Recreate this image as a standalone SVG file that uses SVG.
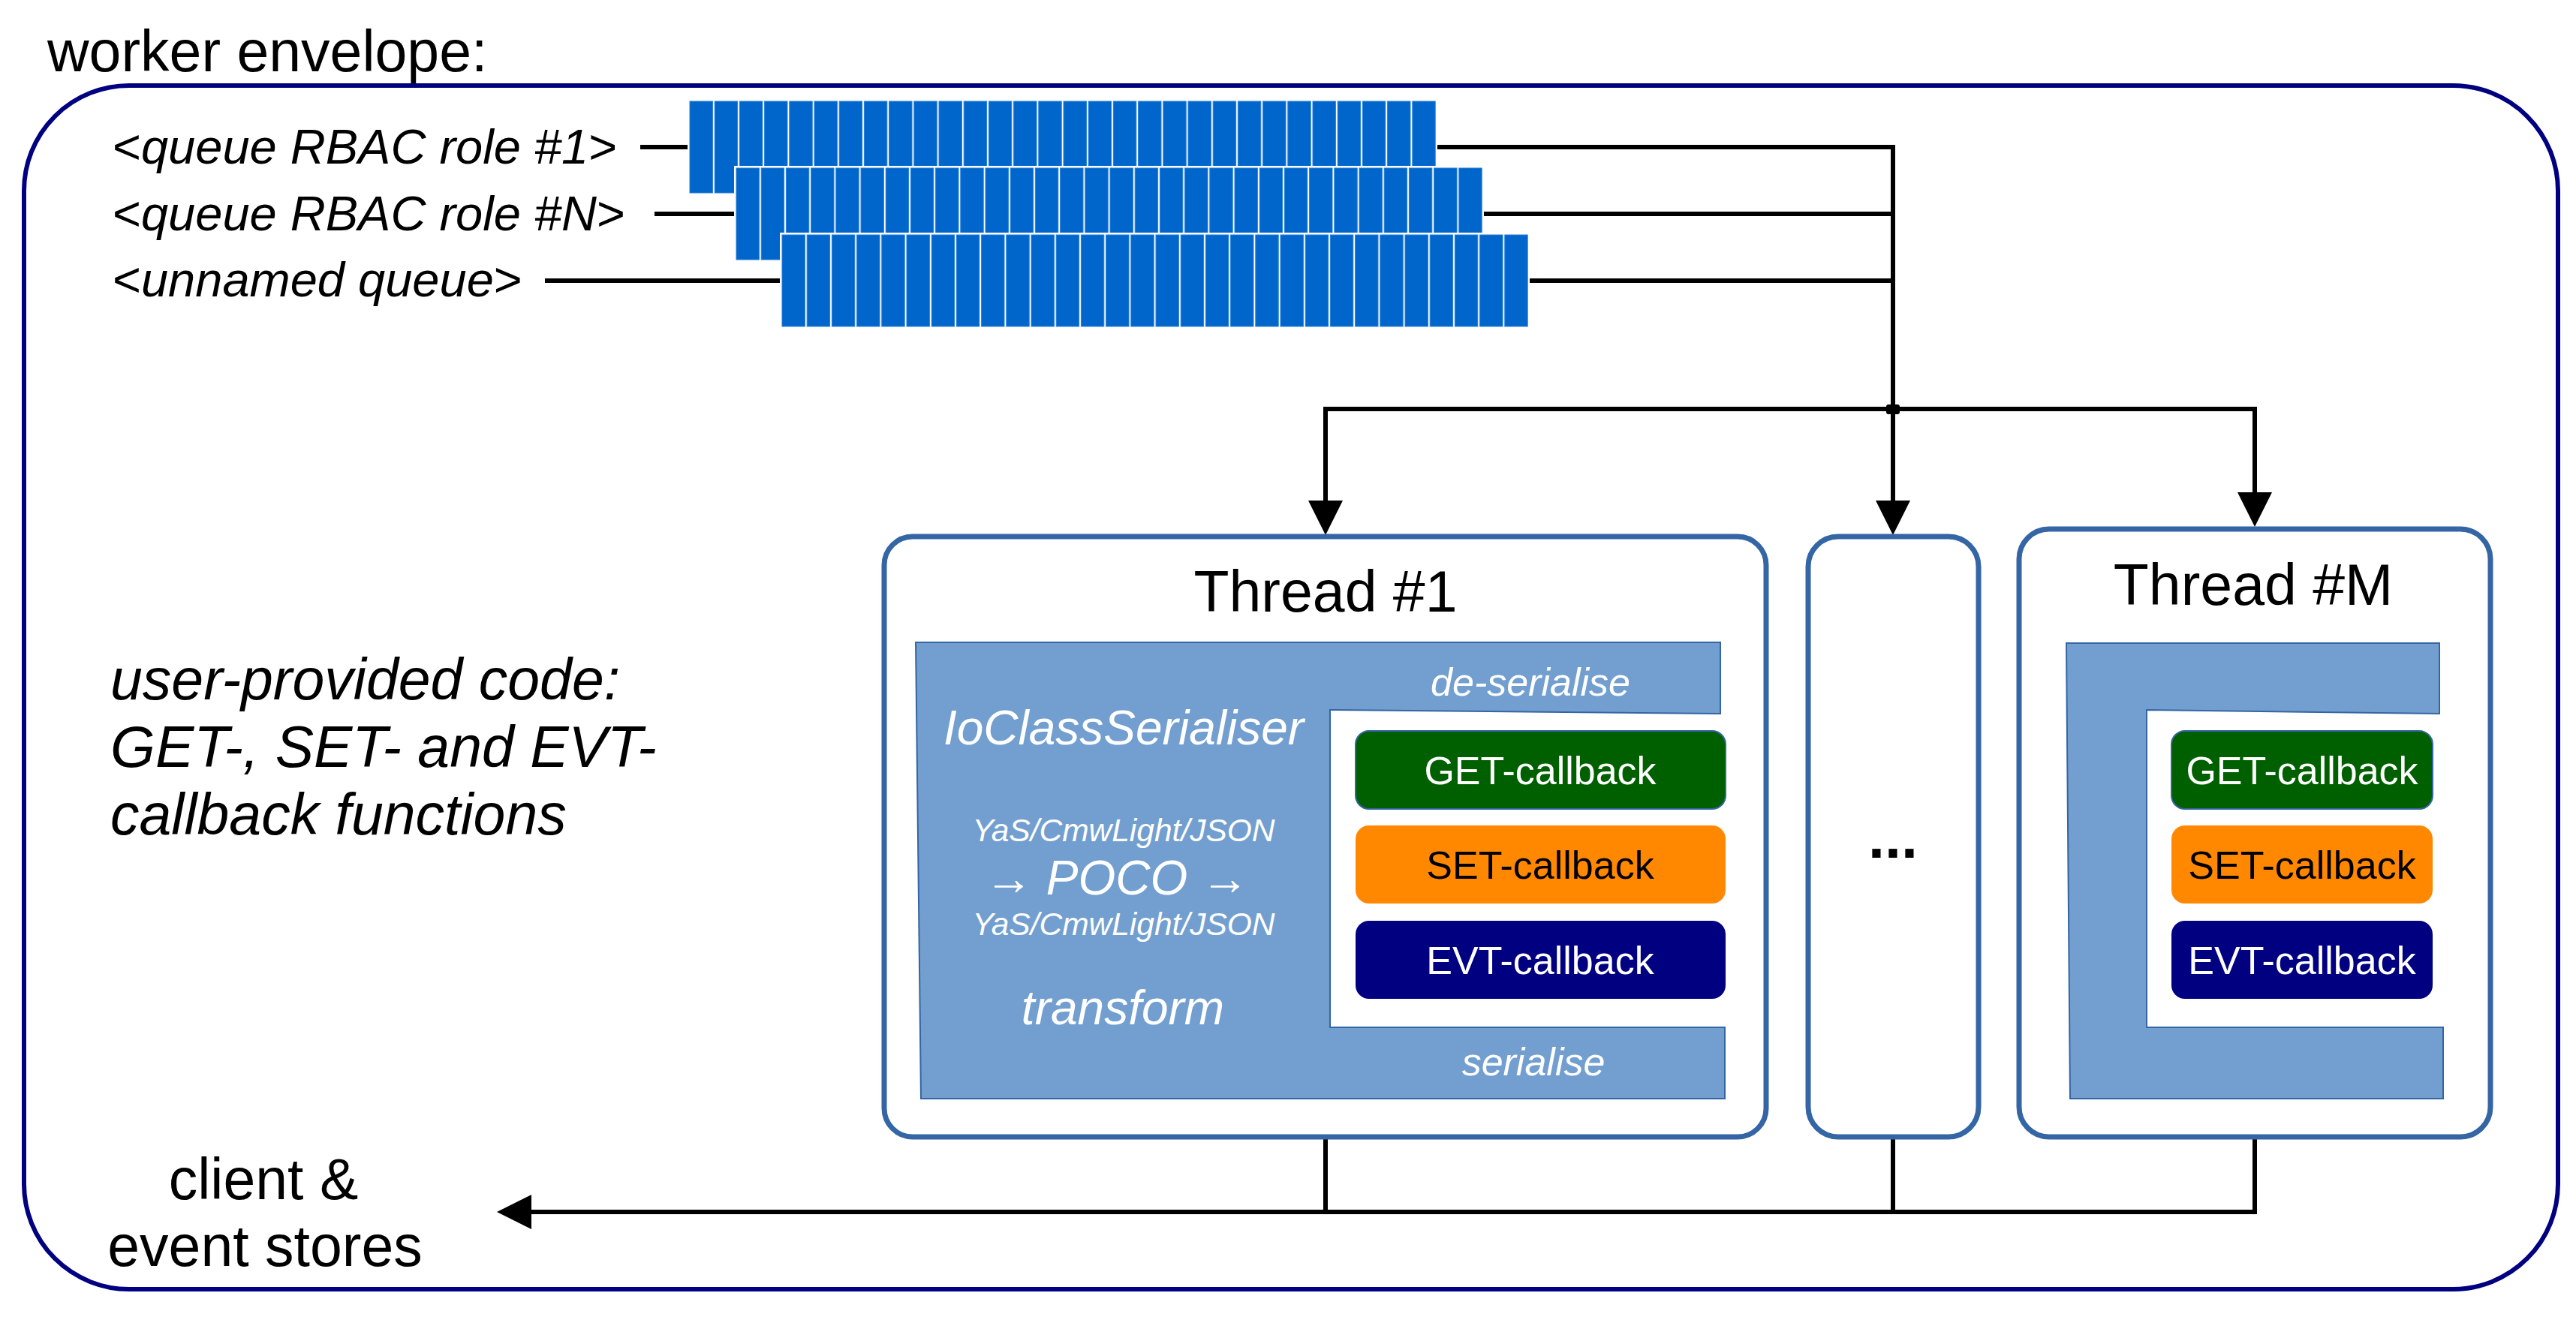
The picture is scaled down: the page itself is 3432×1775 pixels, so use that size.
<svg xmlns="http://www.w3.org/2000/svg" xmlns:xlink="http://www.w3.org/1999/xlink" width="3432" height="1775" viewBox="0 0 3432 1775">
<style>
text{font-family:"Liberation Sans",Arial,sans-serif}
.big{font-size:77px;fill:#000}
.lbl{font-size:65px;font-style:italic;fill:#000}
.it{font-style:italic}
.up{font-style:normal}
.wt{fill:#fff;font-style:italic}
.cb{font-size:52px;text-anchor:middle}
.thread{fill:#fff;stroke:#3465a4;stroke-width:7}
.ser{fill:#729fcf;stroke:#3465a4;stroke-width:2}
.cell{fill:#0066cc;stroke:#2a7fd6;stroke-width:1}
.wire{fill:none;stroke:#000;stroke-width:6}
</style>
<defs>
<g id="qrow">
<rect x="-3" y="-3" width="999" height="128" fill="#fff"/>
<rect class="cell" x="0" y="0" width="30.4" height="122"/>
<rect class="cell" x="33.2" y="0" width="30.4" height="122"/>
<rect class="cell" x="66.4" y="0" width="30.4" height="122"/>
<rect class="cell" x="99.6" y="0" width="30.4" height="122"/>
<rect class="cell" x="132.8" y="0" width="30.4" height="122"/>
<rect class="cell" x="166" y="0" width="30.4" height="122"/>
<rect class="cell" x="199.2" y="0" width="30.4" height="122"/>
<rect class="cell" x="232.4" y="0" width="30.4" height="122"/>
<rect class="cell" x="265.6" y="0" width="30.4" height="122"/>
<rect class="cell" x="298.8" y="0" width="30.4" height="122"/>
<rect class="cell" x="332" y="0" width="30.4" height="122"/>
<rect class="cell" x="365.2" y="0" width="30.4" height="122"/>
<rect class="cell" x="398.4" y="0" width="30.4" height="122"/>
<rect class="cell" x="431.6" y="0" width="30.4" height="122"/>
<rect class="cell" x="464.8" y="0" width="30.4" height="122"/>
<rect class="cell" x="498" y="0" width="30.4" height="122"/>
<rect class="cell" x="531.2" y="0" width="30.4" height="122"/>
<rect class="cell" x="564.4" y="0" width="30.4" height="122"/>
<rect class="cell" x="597.6" y="0" width="30.4" height="122"/>
<rect class="cell" x="630.8" y="0" width="30.4" height="122"/>
<rect class="cell" x="664" y="0" width="30.4" height="122"/>
<rect class="cell" x="697.2" y="0" width="30.4" height="122"/>
<rect class="cell" x="730.4" y="0" width="30.4" height="122"/>
<rect class="cell" x="763.6" y="0" width="30.4" height="122"/>
<rect class="cell" x="796.8" y="0" width="30.4" height="122"/>
<rect class="cell" x="830" y="0" width="30.4" height="122"/>
<rect class="cell" x="863.2" y="0" width="30.4" height="122"/>
<rect class="cell" x="896.4" y="0" width="30.4" height="122"/>
<rect class="cell" x="929.6" y="0" width="30.4" height="122"/>
<rect class="cell" x="962.8" y="0" width="30.4" height="122"/>
</g>
</defs>

<rect width="3432" height="1775" fill="#fff"/>

<g id="envelope">
<rect x="32" y="114" width="3376" height="1604" rx="140" ry="140" fill="none" stroke="#000080" stroke-width="6"/>
<text class="big" x="63" y="95">worker envelope:</text>
</g>

<g id="connectors">
<line class="wire" x1="853" y1="196" x2="919" y2="196"/>
<line class="wire" x1="872" y1="285" x2="981" y2="285"/>
<line class="wire" x1="726" y1="374" x2="1042" y2="374"/>
<line class="wire" x1="1913" y1="196" x2="2525" y2="196"/>
<line class="wire" x1="1975" y1="285" x2="2525" y2="285"/>
<line class="wire" x1="2036" y1="374" x2="2525" y2="374"/>
<line class="wire" x1="2522" y1="193" x2="2522" y2="545"/>
<polyline class="wire" points="1766,667 1766,545 3004,545 3004,656"/>
<line class="wire" x1="2522" y1="545" x2="2522" y2="667"/>
<rect x="2513" y="539" width="18" height="13" rx="3" fill="#000"/>
<path d="M1743,667 L1789,667 L1766,713 Z" fill="#000"/>
<path d="M2499,667 L2545,667 L2522,713 Z" fill="#000"/>
<path d="M2981,656 L3027,656 L3004,702 Z" fill="#000"/>
<line class="wire" x1="1766" y1="1515" x2="1766" y2="1615"/>
<line class="wire" x1="2522" y1="1515" x2="2522" y2="1615"/>
<polyline class="wire" points="3004,1515 3004,1615 706,1615"/>
<path d="M708,1592 L708,1638 L662,1615 Z" fill="#000"/>
</g>

<g id="queues">
<use xlink:href="#qrow" x="919" y="135"/>
<use xlink:href="#qrow" x="981" y="224"/>
<use xlink:href="#qrow" x="1042" y="313"/>
<text class="lbl" x="150" y="218"><tspan class="up">&lt;</tspan>queue RBAC role #1<tspan class="up">&gt;</tspan></text>
<text class="lbl" x="150" y="307"><tspan class="up">&lt;</tspan>queue RBAC role #N<tspan class="up">&gt;</tspan></text>
<text class="lbl" x="150" y="395"><tspan class="up">&lt;</tspan>unnamed queue<tspan class="up">&gt;</tspan></text>
</g>

<g id="user-code">
<text class="big it" x="147" y="932">user-provided code:</text>
<text class="big it" x="147" y="1022">GET-, SET- and EVT-</text>
<text class="big it" x="147" y="1112">callback functions</text>
</g>

<g id="thread-1">
<rect class="thread" x="1178" y="715" width="1175" height="800" rx="38" ry="38"/>
<text class="big" x="1766" y="815" text-anchor="middle">Thread #1</text>
<path class="ser" d="M1220,856 L2292,856 L2292,951 L1772,946 L1772,1369 L2298,1369 L2298,1464 L1227,1464 Z"/>
<text class="wt" x="2039" y="927" font-size="52" text-anchor="middle">de-serialise</text>
<text class="wt" x="1497" y="992" font-size="64" text-anchor="middle">IoClassSerialiser</text>
<text class="wt" x="1497" y="1121" font-size="42.5" text-anchor="middle">YaS/CmwLight/JSON</text>
<text class="wt" x="1488" y="1192" font-size="64" text-anchor="middle">→ POCO →</text>
<text class="wt" x="1497" y="1246" font-size="42.5" text-anchor="middle">YaS/CmwLight/JSON</text>
<text class="wt" x="1496" y="1365" font-size="64" text-anchor="middle">transform</text>
<text class="wt" x="2043" y="1433" font-size="52" text-anchor="middle">serialise</text>
<rect x="1806" y="974" width="493" height="104" rx="18" fill="#006000" stroke="#3465a4" stroke-width="2"/>
<text class="cb" x="2052" y="1045" fill="#fff">GET-callback</text>
<rect x="1806" y="1100" width="493" height="104" rx="18" fill="#ff8800"/>
<text class="cb" x="2052" y="1171" fill="#000">SET-callback</text>
<rect x="1806" y="1227" width="493" height="104" rx="18" fill="#000080"/>
<text class="cb" x="2052" y="1298" fill="#fff">EVT-callback</text>
</g>

<g id="thread-dots">
<rect class="thread" x="2409" y="715" width="227" height="800" rx="40" ry="40"/>
<text x="2522" y="1143" font-size="79" font-weight="bold" text-anchor="middle" fill="#000">...</text>
</g>

<g id="thread-M">
<rect class="thread" x="2690" y="705" width="628" height="810" rx="40" ry="40"/>
<text class="big" x="3002" y="806" text-anchor="middle">Thread #M</text>
<path class="ser" d="M2753,857 L3250,857 L3250,951 L2860,946 L2860,1369 L3255,1369 L3255,1464 L2758,1464 Z"/>
<rect x="2893" y="974" width="348" height="104" rx="18" fill="#006000" stroke="#3465a4" stroke-width="2"/>
<text class="cb" x="3067" y="1045" fill="#fff">GET-callback</text>
<rect x="2893" y="1100" width="348" height="104" rx="18" fill="#ff8800"/>
<text class="cb" x="3067" y="1171" fill="#000">SET-callback</text>
<rect x="2893" y="1227" width="348" height="104" rx="18" fill="#000080"/>
<text class="cb" x="3067" y="1298" fill="#fff">EVT-callback</text>
</g>

<g id="stores">
<text class="big" x="351" y="1598" text-anchor="middle">client &amp;</text>
<text class="big" x="353" y="1687" text-anchor="middle">event stores</text>
</g>
</svg>
